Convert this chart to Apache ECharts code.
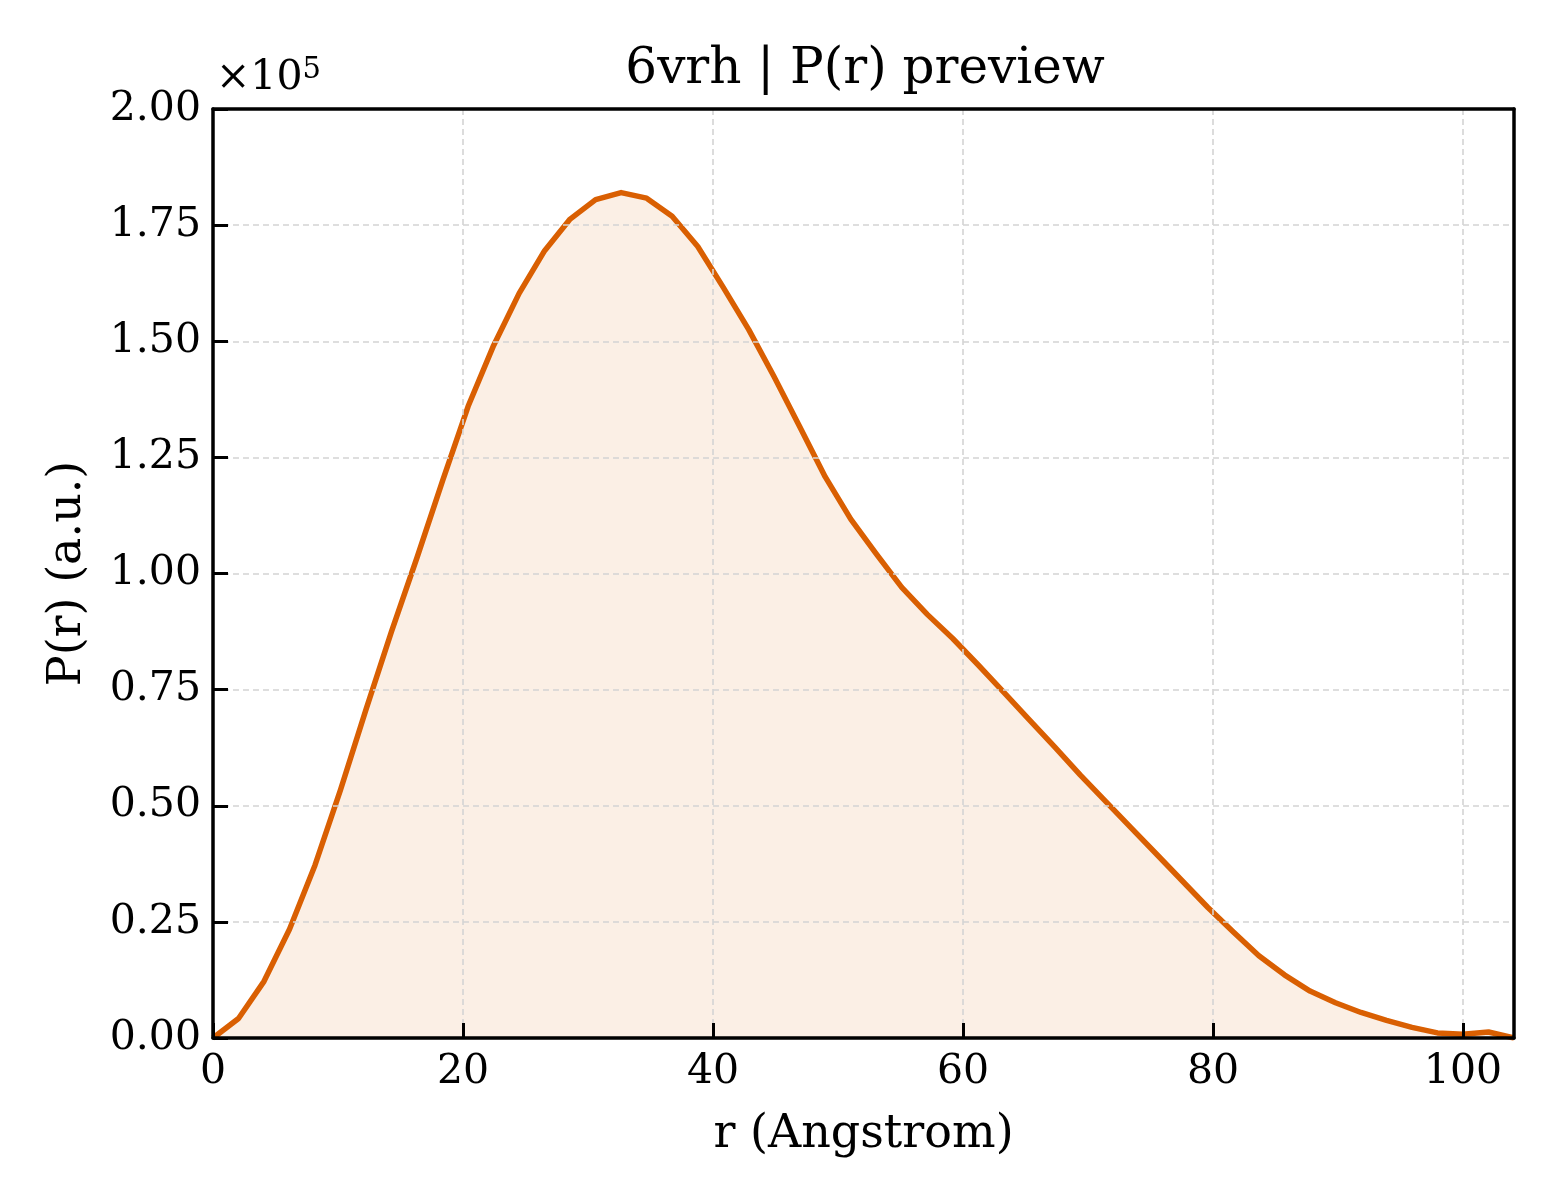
<!DOCTYPE html>
<html>
<head>
<meta charset="utf-8">
<script src="https://cdn.jsdelivr.net/npm/echarts@6/dist/echarts.min.js"></script>
<style>
html,body{margin:0;padding:0;background:#fff;}
#chart{width:1560px;height:1200px;}
</style>
</head>
<body>
<div id="chart"></div>
<script>
// r in Angstrom
const rValues = [0, 2.04, 4.08, 6.12, 8.16, 10.20, 12.25, 14.29, 16.33, 18.37, 20.41, 22.45, 24.49, 26.53, 28.57, 30.61, 32.65, 34.69, 36.73, 38.78, 40.82, 42.86, 44.90, 46.94, 48.98, 51.02, 53.06, 55.10, 57.14, 59.18, 61.22, 63.27, 65.31, 67.35, 69.39, 71.43, 73.47, 75.51, 77.55, 79.59, 81.63, 83.67, 85.71, 87.76, 89.80, 91.84, 93.88, 95.92, 97.96, 100.00, 102.04, 104.08];
// P(r) in arbitrary units
const prValues = [0, 4200, 12200, 23400, 37200, 53400, 70800, 87600, 103500, 120000, 136000, 149100, 160300, 169500, 176300, 180500, 182000, 180800, 176900, 170400, 161600, 152500, 142300, 131600, 120800, 111700, 104200, 97000, 91200, 86000, 80300, 74400, 68500, 62600, 56600, 50900, 45200, 39500, 33800, 28100, 22800, 17700, 13600, 10100, 7600, 5500, 3800, 2300, 1100, 800, 1300, 0];
const xTicks = [0, 20, 40, 60, 80, 100];
const yTicks = [0, 25000, 50000, 75000, 100000, 125000, 150000, 175000, 200000];
const titleText = '6vrh | P(r) preview';
const xName = 'r (Angstrom)';
const yName = 'P(r) (a.u.)';

const FONT = 'DejaVu Serif';
const lineColor = '#d95f02';
const seriesData = rValues.map((r, i) => [r, prValues[i]]);
const X_MAX = rValues[rValues.length - 1];

const gridStyle = {color: '#d4d4d4', width: 1.6, type: [6, 4]};
const frameLine = {show: true, onZero: false, lineStyle: {color: '#000', width: 3.5}};

const chart = echarts.init(document.getElementById('chart'), null, {renderer: 'canvas'});
chart.setOption({
  backgroundColor: '#ffffff',
  animation: false,
  title: {
    text: titleText,
    left: 860, top: 40, textAlign: 'center',
    textStyle: {fontFamily: FONT, fontSize: 50, fontWeight: 'normal', color: '#000'}
  },
  grid: {left: 213, right: 46, top: 109, bottom: 162, show: false},
  graphic: [{
    type: 'text',
    left: 216, top: 56,
    style: {
      text: '{a|×10}{b|5}',
      rich: {
        a: {fontFamily: FONT, fontSize: 41, fill: '#000', verticalAlign: 'bottom'},
        b: {fontFamily: FONT, fontSize: 29, fill: '#000', verticalAlign: 'top', padding: [0, 0, 14, 0]}
      }
    }
  }],
  xAxis: [{
    type: 'value',
    min: 0, max: X_MAX, interval: 20,
    name: xName, nameLocation: 'middle', nameGap: 74,
    nameTextStyle: {fontFamily: FONT, fontSize: 46, color: '#000'},
    axisLine: frameLine,
    axisTick: {show: true, inside: true, length: 15, lineStyle: {color: '#000', width: 3}},
    axisLabel: {
      fontFamily: FONT, fontSize: 41, color: '#000', margin: 14,
      formatter: v => (xTicks.indexOf(Math.round(v * 100) / 100) >= 0 ? String(v) : ''),
      showMaxLabel: false
    },
    splitLine: {show: true, lineStyle: gridStyle},
    z: 5
  }, {
    type: 'value', position: 'top',
    min: 0, max: X_MAX, interval: 20,
    axisLine: frameLine, axisTick: {show: false}, axisLabel: {show: false}, splitLine: {show: false},
    z: 5
  }],
  yAxis: [{
    type: 'value',
    min: 0, max: 200000, interval: 25000,
    name: yName, nameLocation: 'middle', nameGap: 122, nameRotate: 90,
    nameTextStyle: {fontFamily: FONT, fontSize: 46, color: '#000'},
    axisLine: frameLine,
    axisTick: {show: true, inside: true, length: 15, lineStyle: {color: '#000', width: 3}},
    axisLabel: {
      fontFamily: FONT, fontSize: 41, color: '#000', margin: 12,
      formatter: v => (yTicks.indexOf(v) >= 0 ? (v / 1e5).toFixed(2) : '')
    },
    splitLine: {show: true, lineStyle: gridStyle},
    z: 5
  }, {
    type: 'value', position: 'right',
    min: 0, max: 200000, interval: 25000,
    axisLine: frameLine, axisTick: {show: false}, axisLabel: {show: false}, splitLine: {show: false},
    z: 5
  }],
  series: [{
    type: 'line',
    xAxisIndex: 0, yAxisIndex: 0,
    data: seriesData,
    showSymbol: false,
    symbol: 'none',
    clip: true,
    lineStyle: {color: lineColor, width: 5.5, join: 'round'},
    areaStyle: {color: 'rgba(217,95,2,0.145)', origin: 'start'},
    z: 3
  }]
});
</script>
</body>
</html>
